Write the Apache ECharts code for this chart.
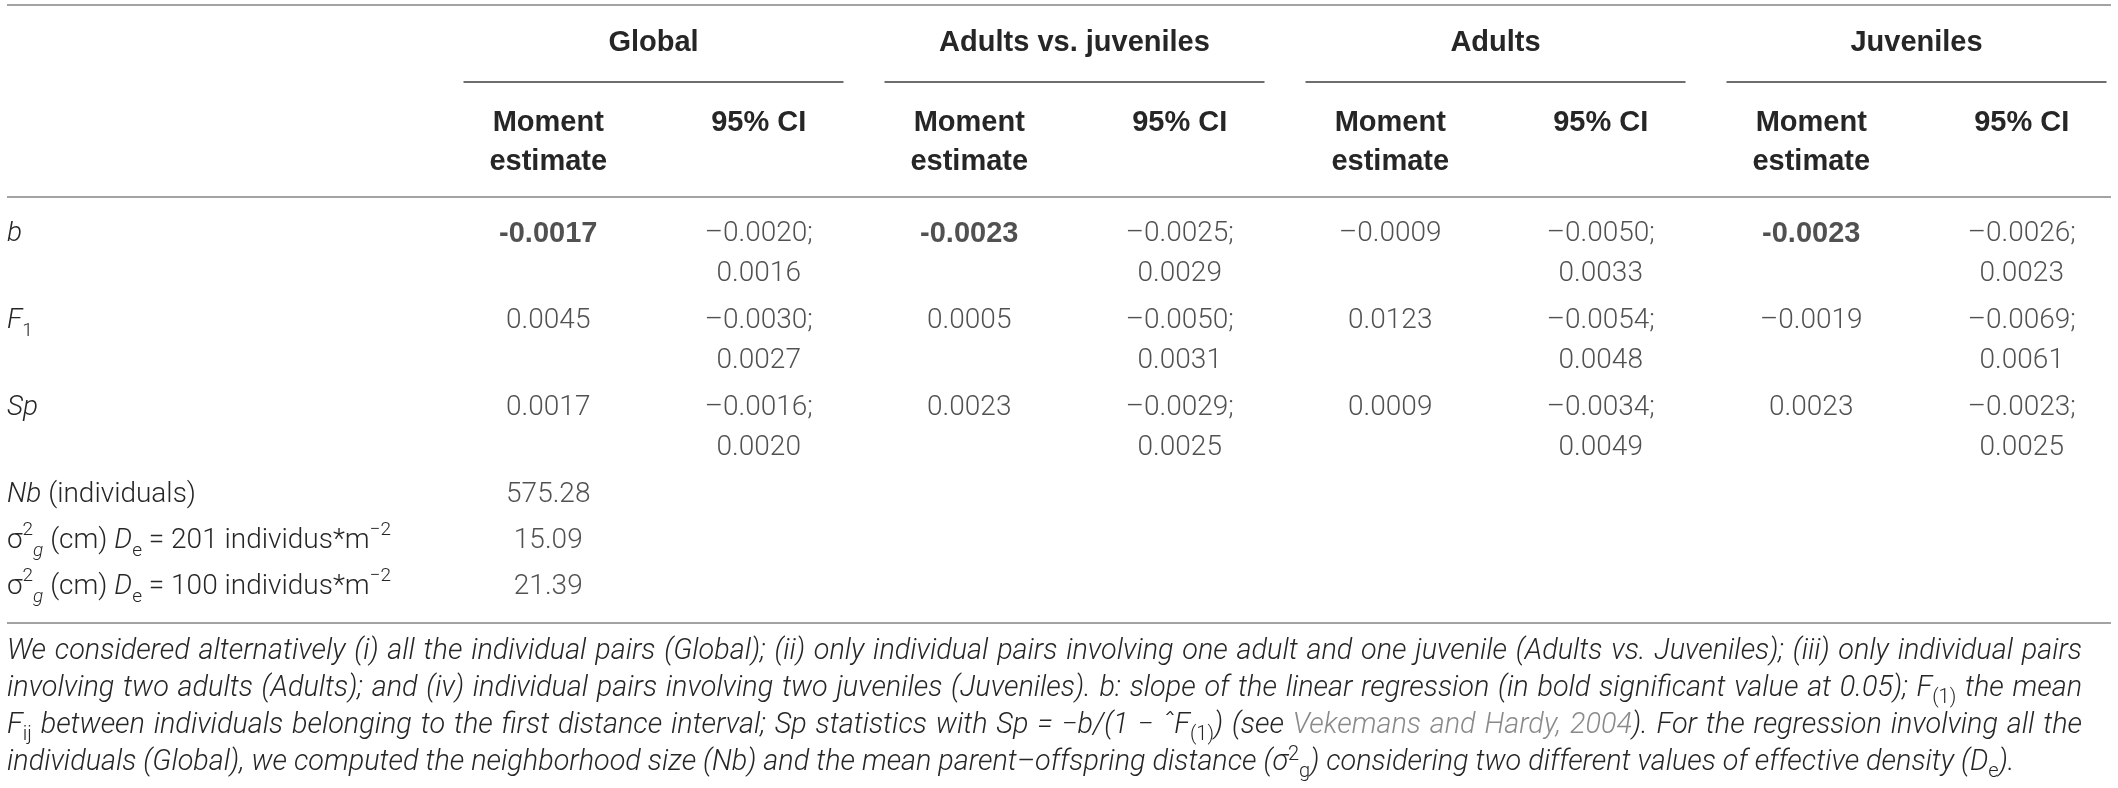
<!DOCTYPE html>
<html>
<head>
<meta charset="utf-8">
<script src="https://cdn.jsdelivr.net/npm/echarts@6/dist/echarts.min.js"></script>
<style>
html,body{margin:0;padding:0;background:#fff;}
#main{width:2118px;height:788px;}
</style>
</head>
<body>
<div id="main"></div>
<script>
// ---------------- data ----------------
const groups = ['Global', 'Adults vs. juveniles', 'Adults', 'Juveniles'];
const statColumns = ['Moment estimate', '95% CI'];
const mainRows = ['b', 'F1', 'Sp'];
const extraRows = ['Nb (individuals)', 'σ2g (cm) De = 201 individus*m−2', 'σ2g (cm) De = 100 individus*m−2'];

const bEstimate    = [-0.0017, -0.0023, -0.0009, -0.0023];
const bCILow       = [-0.0020, -0.0025, -0.0050, -0.0026];
const bCIHigh      = [ 0.0016,  0.0029,  0.0033,  0.0023];
const bSignificant = [true, true, false, true];
const f1Estimate   = [ 0.0045,  0.0005,  0.0123, -0.0019];
const f1CILow      = [-0.0030, -0.0050, -0.0054, -0.0069];
const f1CIHigh     = [ 0.0027,  0.0031,  0.0048,  0.0061];
const spEstimate   = [ 0.0017,  0.0023,  0.0009,  0.0023];
const spCILow      = [-0.0016, -0.0029, -0.0034, -0.0023];
const spCIHigh     = [ 0.0020,  0.0025,  0.0049,  0.0025];
const globalExtra  = [575.28, 15.09, 21.39];

const noteLines = [
  [['i', 'We considered alternatively (i) all the individual pairs (Global); (ii) only individual pairs involving one adult and one juvenile (Adults vs. Juveniles); (iii) only individual pairs']],
  [['i', 'involving two adults (Adults); and (iv) individual pairs involving two juveniles (Juveniles). b: slope of the linear regression (in bold significant value at 0.05); F'], ['sub', '(1)'], ['i', ' the mean']],
  [['i', 'F'], ['sub', 'ij'], ['i', ' between individuals belonging to the first distance interval; Sp statistics with Sp = −b/(1 − ˆF'], ['sub', '(1)'], ['i', ') (see '], ['link', 'Vekemans and Hardy, 2004'], ['i', '). For the regression involving all the']],
  [['i', 'individuals (Global), we computed the neighborhood size (Nb) and the mean parent–offspring distance (σ'], ['sup', '2'], ['sub', 'g'], ['i', ') considering two different values of effective density (D'], ['sub', 'e'], ['i', ').']]
];

// ---------------- layout / style ----------------
const TXT = '#262626';
const RULE = '#a3a3a3';
const LIGHT = 'Roboto';
const BOLD = 'Liberation Sans';
const TABLE_L = 7, TABLE_R = 2111;
const GRID_L = 443, GRID_W = 1684;
const GRID_A_TOP = 210, GRID_A_H = 261;
const GRID_B_TOP = 472, GRID_B_H = 138;

function fmt(v, bold, digits) {
  const s = Math.abs(v).toFixed(digits == null ? 4 : digits);
  return v < 0 ? (bold ? '-' : '\u2013') + s : s;
}

const columns = [];
groups.forEach(g => statColumns.forEach(s => columns.push(g + ' · ' + s)));

const boldLabel = {fontFamily: BOLD, fontWeight: 'bold', fontSize: 29};
const mainStats = [
  {est: bEstimate, lo: bCILow, hi: bCIHigh, sig: bSignificant},
  {est: f1Estimate, lo: f1CILow, hi: f1CIHigh},
  {est: spEstimate, lo: spCILow, hi: spCIHigh}
];
const mainCells = [];
mainStats.forEach((row, r) => {
  groups.forEach((g, gi) => {
    const bold = !!(row.sig && row.sig[gi]);
    mainCells.push({value: [2 * gi, r], text: fmt(row.est[gi], bold),
      label: Object.assign({offset: [0, -20]}, bold ? boldLabel : {})});
    mainCells.push({value: [2 * gi + 1, r], text: fmt(row.lo[gi], false) + ';', label: {offset: [0, -20]}});
    mainCells.push({value: [2 * gi + 1, r], text: fmt(row.hi[gi], false), label: {offset: [0, 20]}});
  });
});
const extraCells = globalExtra.map((v, i) => ({value: [0, i], text: fmt(v, false, 2)}));

const rowRich = {
  i: {fontFamily: LIGHT, fontWeight: 300, fontStyle: 'italic', fontSize: 28, lineHeight: 40, color: TXT},
  n: {fontFamily: LIGHT, fontWeight: 300, fontSize: 28, lineHeight: 40, color: TXT},
  sub: {fontFamily: LIGHT, fontWeight: 300, fontSize: 19, lineHeight: 16, verticalAlign: 'bottom', color: TXT},
  subi: {fontFamily: LIGHT, fontWeight: 300, fontStyle: 'italic', fontSize: 19, lineHeight: 16, verticalAlign: 'bottom', color: TXT},
  sup: {fontFamily: LIGHT, fontWeight: 300, fontSize: 19, lineHeight: 20, verticalAlign: 'top', color: TXT}
};
function rowLabel(v) {
  if (v === 'b') return '{i|b}';
  if (v === 'F1') return '{i|F}{sub|1}';
  if (v === 'Sp') return '{i|Sp}';
  if (v.indexOf('Nb') === 0) return '{i|Nb}{n| (individuals)}';
  const m = v.match(/De = (\d+)/);
  return '{n|σ}{sup|2}{subi|g}{n| (cm) }{i|D}{sub|e}{n| = ' + m[1] + ' individus*m}{sup|−2}';
}

// ---------------- footnote (justified) ----------------
const ctx = document.createElement('canvas').getContext('2d');
function fontOf(st) {
  return (st.fontStyle || 'normal') + ' ' + (st.fontWeight || 'normal') + ' ' + st.fontSize + 'px ' + st.fontFamily;
}
function measure(st, t) { ctx.font = fontOf(st); return ctx.measureText(t).width; }
function noteStyles(fs) {
  const sm = Math.round(fs * 0.7);
  return {
    i: {fontFamily: LIGHT, fontWeight: 300, fontStyle: 'italic', fontSize: fs, lineHeight: 37, color: TXT},
    link: {fontFamily: LIGHT, fontWeight: 300, fontStyle: 'italic', fontSize: fs, lineHeight: 37, color: '#8a8a8a'},
    sub: {fontFamily: LIGHT, fontWeight: 300, fontStyle: 'normal', fontSize: sm, lineHeight: 14, verticalAlign: 'bottom', color: TXT},
    sup: {fontFamily: LIGHT, fontWeight: 300, fontStyle: 'normal', fontSize: sm, lineHeight: 18, verticalAlign: 'top', color: TXT}
  };
}
function lineWidth(line, st) {
  return line.reduce((s, tk) => s + measure(st[tk[0]], tk[1]), 0);
}
let noteFs = 26;
{
  const w4 = lineWidth(noteLines[3], noteStyles(26));
  noteFs = Math.round(26 * 2009 / w4 * 10) / 10;
}
const noteRich = noteStyles(noteFs);
const justifyTo = 2082 - TABLE_L;
const noteText = noteLines.map((line, li) => {
  if (li === noteLines.length - 1) {
    return line.map(tk => '{' + tk[0] + '|' + tk[1] + '}').join('');
  }
  const items = [];
  line.forEach(tk => {
    const parts = tk[1].split(' ');
    parts.forEach((p, pi) => {
      if (pi > 0) items.push({space: true});
      if (p) items.push({st: tk[0], t: p});
    });
  });
  let wordsW = 0, nSp = 0;
  items.forEach(it => { if (it.space) nSp++; else wordsW += measure(noteRich[it.st], it.t); });
  const spW = Math.max(3, (justifyTo - wordsW) / nSp);
  noteRich['sp' + li] = {width: spW, fontSize: noteFs, lineHeight: 37};
  return items.map(it => it.space ? '{sp' + li + '|}' : '{' + it.st + '|' + it.t + '}').join('');
}).join('\n');

// ---------------- chart ----------------
const chart = echarts.init(document.getElementById('main'));
const hiddenAxis = {axisLine: {show: false}, axisTick: {show: false}, splitLine: {show: false}};
const valueLabel = {
  show: true, position: 'inside', color: TXT,
  fontFamily: LIGHT, fontWeight: 300, fontSize: 28,
  formatter: p => p.data.text
};

chart.setOption({
  animation: false,
  backgroundColor: '#fff',
  title: {
    text: noteText, left: TABLE_L, top: 633.5, padding: 0,
    textStyle: {rich: noteRich, fontSize: noteFs, lineHeight: 37, color: TXT}
  },
  grid: [
    {left: GRID_L, width: GRID_W, top: GRID_A_TOP, height: GRID_A_H, outerBoundsMode: 'none', containLabel: false},
    {left: GRID_L, width: GRID_W, top: GRID_B_TOP, height: GRID_B_H, outerBoundsMode: 'none', containLabel: false}
  ],
  xAxis: [
    Object.assign({
      type: 'category', gridIndex: 0, position: 'top', data: columns,
      axisLabel: {
        interval: 0, margin: 106.5, verticalAlign: 'top', align: 'center',
        formatter: v => {
          const s = v.split(' · ')[1];
          return s === 'Moment estimate' ? '{h|Moment}\n{h|estimate}' : '{h|' + s + '}';
        },
        rich: {h: {fontFamily: BOLD, fontWeight: 'bold', fontSize: 29, lineHeight: 39, color: TXT}}
      }
    }, hiddenAxis),
    Object.assign({
      type: 'category', gridIndex: 0, position: 'top', data: groups,
      axisLabel: {
        interval: 0, margin: 187, verticalAlign: 'top', align: 'center',
        formatter: v => '{g|' + v + '}\n{rule|}',
        rich: {
          g: {fontFamily: BOLD, fontWeight: 'bold', fontSize: 29, lineHeight: 40, color: TXT},
          rule: {width: 380, height: 2, lineHeight: 38, backgroundColor: '#6e6e6e'}
        }
      }
    }, hiddenAxis),
    Object.assign({type: 'category', gridIndex: 1, data: columns, show: false}, hiddenAxis)
  ],
  yAxis: [
    Object.assign({
      type: 'category', gridIndex: 0, inverse: true, data: mainRows,
      axisLabel: {interval: 0, margin: GRID_L - TABLE_L, align: 'left', padding: [0, 0, 40, 0],
        formatter: rowLabel, rich: rowRich}
    }, hiddenAxis),
    Object.assign({
      type: 'category', gridIndex: 1, inverse: true, data: extraRows,
      axisLabel: {interval: 0, margin: GRID_L - TABLE_L, align: 'left',
        formatter: rowLabel, rich: rowRich}
    }, hiddenAxis)
  ],
  series: [
    {type: 'scatter', xAxisIndex: 0, yAxisIndex: 0, symbolSize: 1, silent: true,
      itemStyle: {color: 'rgba(0,0,0,0)'}, label: valueLabel, data: mainCells},
    {type: 'scatter', xAxisIndex: 2, yAxisIndex: 1, symbolSize: 1, silent: true,
      itemStyle: {color: 'rgba(0,0,0,0)'}, label: valueLabel, data: extraCells}
  ],
  graphic: [5, 197, 623].map(y => ({
    type: 'line', silent: true,
    shape: {x1: TABLE_L, y1: y, x2: TABLE_R, y2: y},
    style: {stroke: RULE, lineWidth: 2}
  }))
});
</script>
</body>
</html>
